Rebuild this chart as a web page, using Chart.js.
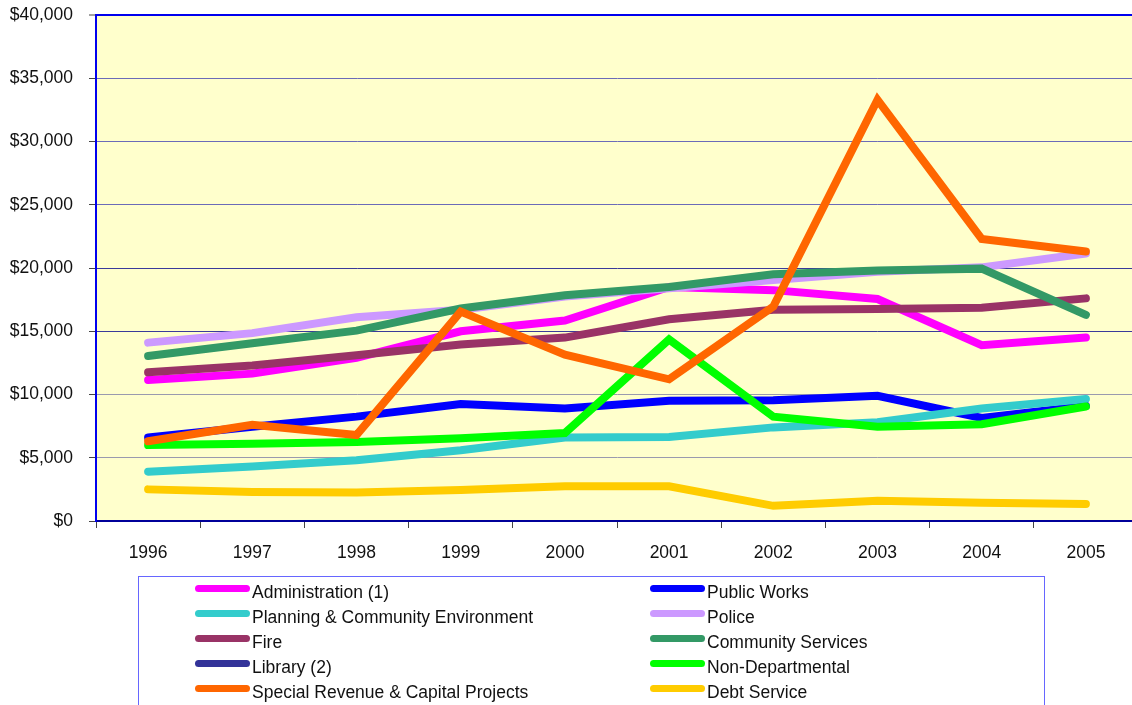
<!DOCTYPE html>
<html>
<head>
<meta charset="utf-8">
<script src="https://cdn.jsdelivr.net/npm/chart.js@4"></script>
<style>
  html, body { margin: 0; padding: 0; background: #fff; overflow: hidden; }
  #wrap { position: relative; width: 1140px; height: 705px; }
  #chart { position: absolute; left: 0; top: 0; }
  #legend {
    position: absolute; left: 138px; top: 576px; width: 907px; height: 160px;
    border: 1px solid #6666ff; box-sizing: border-box;
    font-family: "Liberation Sans", Arial, sans-serif; font-size: 17.5px; color: #111;
  }
  .item { position: absolute; height: 25px; line-height: 25px; white-space: nowrap; }
  .item i { position: absolute; left: 0; top: 7px; width: 55px; height: 7px; border-radius: 4px; }
  .item span { position: absolute; left: 57px; top: 2px; }
</style>
</head>
<body>
<div id="wrap">
  <canvas id="chart" width="1140" height="579"></canvas>
  <div id="legend"></div>
</div>
<script>
const years = ['1996', '1997', '1998', '1999', '2000', '2001', '2002', '2003', '2004', '2005'];

const administration = [11150, 11650, 12900, 15000, 15850, 18500, 18250, 17550, 13900, 14500];
const publicWorks = [6600, 7450, 8250, 9250, 8900, 9500, 9550, 9900, 8150, 9100];
const planning = [3900, 4300, 4800, 5600, 6600, 6650, 7400, 7800, 8900, 9650];
const police = [14100, 14850, 16100, 16700, 17750, 18400, 19050, 19700, 20050, 21150];
const fire = [11750, 12300, 13100, 13950, 14500, 15950, 16700, 16750, 16850, 17600];
const communityServices = [13050, 14050, 15050, 16800, 17850, 18500, 19500, 19800, 19950, 16300];
const library = [null, null, null, null, null, null, null, null, null, null];
const nonDepartmental = [6000, 6100, 6250, 6550, 6950, 14350, 8250, 7450, 7650, 9050];
const specialRevenue = [6300, 7600, 6800, 16550, 13150, 11200, 16950, 33300, 22300, 21300];
const debtService = [2500, 2300, 2250, 2450, 2750, 2750, 1200, 1600, 1450, 1350];

const seriesNames = ['Administration (1)', 'Public Works', 'Planning & Community Environment', 'Police',
  'Fire', 'Community Services', 'Library (2)', 'Non-Departmental', 'Special Revenue & Capital Projects', 'Debt Service'];
const seriesData = [administration, publicWorks, planning, police, fire, communityServices,
  library, nonDepartmental, specialRevenue, debtService];
const seriesColors = ['#ff00ff', '#0000ff', '#33cccc', '#cc99ff', '#993366', '#339966',
  '#333399', '#00ff00', '#ff6600', '#ffcc00'];

const yTicks = [0, 5000, 10000, 15000, 20000, 25000, 30000, 35000, 40000];

const FONT = '"Liberation Sans", Arial, sans-serif';

// plot area fill
const plotFill = {
  id: 'plotFill',
  beforeDraw(chart) {
    const a = chart.chartArea;
    const ctx = chart.ctx;
    ctx.save();
    ctx.fillStyle = '#ffffcc';
    ctx.fillRect(a.left, a.top, a.right - a.left, a.bottom - a.top);
    ctx.restore();
  }
};

function gridColor(ctx) {
  const v = ctx.tick && ctx.tick.value;
  if (v === 40000) return '#0000ee';
  if (v <= 10000) return '#9a9aae';
  if (v >= 25000) return '#6b6bb8';
  return '#3a3a9a';
}

new Chart(document.getElementById('chart').getContext('2d'), {
  type: 'line',
  data: {
    labels: years,
    datasets: seriesNames.map((name, i) => ({
      label: name,
      data: seriesData[i],
      borderColor: seriesColors[i],
      backgroundColor: seriesColors[i],
      borderWidth: 8,
      borderCapStyle: 'round',
      borderJoinStyle: 'miter',
      pointRadius: 0,
      tension: 0,
      fill: false,
      order: seriesNames.length - i
    }))
  },
  options: {
    responsive: false,
    animation: false,
    devicePixelRatio: 1,
    layout: { padding: { top: 15, right: 2, left: 0, bottom: 0 } },
    plugins: { legend: { display: false }, tooltip: { enabled: false } },
    scales: {
      x: {
        offset: true,
        border: { color: '#000099', width: 2 },
        grid: { offset: true, drawOnChartArea: false, drawTicks: true, tickLength: 7, tickColor: '#444' },
        ticks: { color: '#111', padding: 15, font: { family: FONT, size: 17.5 } }
      },
      y: {
        min: 0,
        max: 40000,
        afterFit: (s) => { s.width = 96; s.paddingTop = 0; s.paddingBottom = 0; },
        afterBuildTicks: (s) => { s.ticks = yTicks.map((v) => ({ value: v })); },
        border: { color: '#0000ee', width: 2 },
        grid: {
          color: gridColor,
          lineWidth: (ctx) => (ctx.tick && ctx.tick.value === 40000 ? 2 : 1),
          drawTicks: true,
          tickLength: 7,
          tickColor: '#444',
          tickWidth: 1
        },
        ticks: {
          color: '#111',
          padding: 16,
          font: { family: FONT, size: 17.5 },
          callback: (v) => '$' + Number(v).toLocaleString('en-US')
        }
      }
    }
  },
  plugins: [plotFill]
});

// two-column legend, row by row like the original
const legend = document.getElementById('legend');
seriesNames.forEach((name, i) => {
  const el = document.createElement('div');
  el.className = 'item';
  el.style.left = (i % 2 === 0 ? 56 : 511) + 'px';
  el.style.top = (1 + Math.floor(i / 2) * 25) + 'px';
  el.innerHTML = '<i style="background:' + seriesColors[i] + '"></i><span></span>';
  el.querySelector('span').textContent = name;
  legend.appendChild(el);
});
</script>
</body>
</html>
